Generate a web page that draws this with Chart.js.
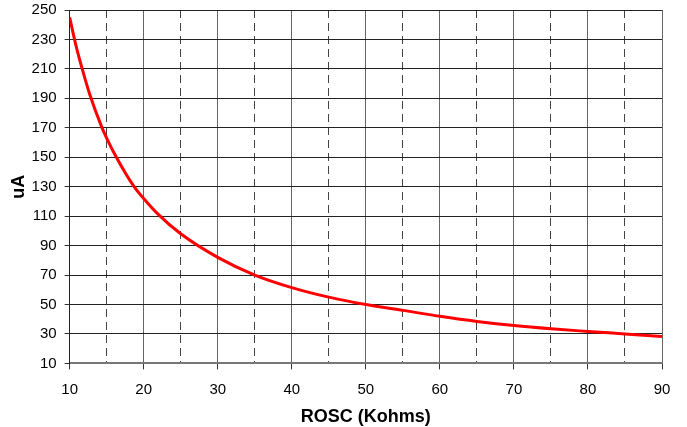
<!DOCTYPE html>
<html>
<head>
<meta charset="utf-8">
<script src="https://cdn.jsdelivr.net/npm/chart.js@4"></script>
<style>
  html, body { margin: 0; padding: 0; background: #fff; }
  #wrap { width: 687px; height: 427px; }
</style>
</head>
<body>
<div id="wrap"><canvas id="roscChart"></canvas></div>
<script>
// values
const roscValues = [10, 10.9, 11.7, 12.7, 14.3, 15, 16.2, 18.7, 20, 21.9, 25, 30, 35, 40, 45, 50, 55, 60, 65, 70, 75, 80, 85, 90];
const currentValues = [245, 225, 210, 193, 171, 163, 151, 130, 122, 111.5, 98, 82, 70, 61.5, 55, 50, 46, 42, 38.5, 35.7, 33.5, 31.7, 30, 28.3];

const xTitle = 'ROSC (Kohms)';
const yTitle = 'uA';

document.addEventListener('DOMContentLoaded', function() {
    const points = roscValues.map((x, i) => ({ x: x, y: currentValues[i] }));
    const ctx = document.getElementById('roscChart').getContext('2d');

    const isHalf = (c) => c.tick && Math.round(c.tick.value) % 10 !== 0;

    new Chart(ctx, {
        type: 'line',
        data: {
            datasets: [{
                label: 'uA',
                data: points,
                borderColor: '#ff0000',
                borderWidth: 3,
                pointRadius: 0,
                fill: false,
                cubicInterpolationMode: 'monotone'
            }]
        },
        options: {
            responsive: true,
            maintainAspectRatio: false,
            animation: false,
            layout: { padding: { top: 0, right: 25, left: 7, bottom: -1 } },
            plugins: {
                legend: { display: false },
                tooltip: { enabled: false }
            },
            scales: {
                x: {
                    type: 'linear',
                    min: 10,
                    max: 90,
                    ticks: {
                        stepSize: 5,
                        color: '#000',
                        font: { family: 'Liberation Sans', size: 15 },
                        maxRotation: 0,
                        autoSkip: false,
                        padding: 11,
                        callback: function(v) { return v % 10 === 0 ? v : ''; }
                    },
                    grid: {
                        color: (c) => isHalf(c) ? '#444' : '#666',
                        lineWidth: 1,
                        tickLength: 6,
                        tickColor: (c) => isHalf(c) ? 'rgba(0,0,0,0)' : '#333'
                    },
                    border: {
                        color: '#777',
                        width: 2,
                        dash: (c) => isHalf(c) ? [8, 5] : []
                    },
                    title: {
                        display: true,
                        text: xTitle,
                        color: '#000',
                        font: { family: 'Liberation Sans', size: 18, weight: 'bold' },
                        padding: { top: -3, bottom: 0 }
                    }
                },
                y: {
                    min: 10,
                    max: 250,
                    // keep the top of the plot close to the canvas edge
                    afterFit: function(scale) { scale.paddingTop = 10; },
                    ticks: {
                        stepSize: 20,
                        color: '#000',
                        font: { family: 'Liberation Sans', size: 15 },
                        padding: 8
                    },
                    grid: {
                        color: '#222',
                        lineWidth: 1,
                        tickLength: 5,
                        tickColor: '#333'
                    },
                    border: { color: '#222' },
                    title: {
                        display: true,
                        text: yTitle,
                        color: '#000',
                        font: { family: 'Liberation Sans', size: 18, weight: 'bold' },
                        padding: { top: 1, bottom: -6 }
                    }
                }
            }
        }
    });
});
</script>
</body>
</html>
